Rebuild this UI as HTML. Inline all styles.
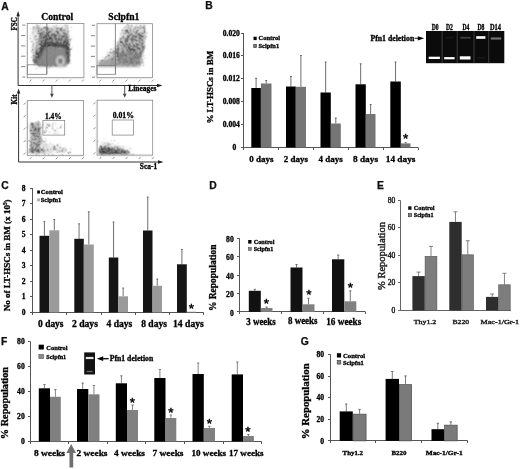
<!DOCTYPE html>
<html lang="en"><head><meta charset="utf-8"><title>Figure</title>
<style>
html,body{margin:0;padding:0;background:#fff;}
body{width:520px;height:469px;overflow:hidden;position:relative;}
svg{position:absolute;left:0;top:0;display:block;}
text.s{font-family:"Liberation Serif","DejaVu Serif",serif;font-weight:bold;stroke:#000;stroke-width:.3px;}
text.n{font-family:"Liberation Sans","DejaVu Sans",sans-serif;font-weight:bold;stroke:#000;stroke-width:.25px;}
</style></head><body>
<svg width="520" height="469" viewBox="0 0 520 469">
<defs>
<filter id="b1" x="-20%" y="-20%" width="140%" height="140%"><feGaussianBlur stdDeviation="1.2"/></filter>
<filter id="b2" x="-20%" y="-20%" width="140%" height="140%"><feGaussianBlur stdDeviation="2.2"/></filter>
<filter id="b05" x="-20%" y="-20%" width="140%" height="140%"><feGaussianBlur stdDeviation="0.8"/></filter>
<filter id="spk" filterUnits="userSpaceOnUse" x="20" y="18" width="140" height="142" color-interpolation-filters="sRGB">
  <feGaussianBlur in="SourceAlpha" stdDeviation="1.1" result="d"/>
  <feTurbulence type="fractalNoise" baseFrequency="1.37" numOctaves="1" seed="11" result="n"/>
  <feColorMatrix in="n" type="matrix" values="0 0 0 0 0  0 0 0 0 0  0 0 0 0 0  1 0 0 0 0" result="na"/>
  <feComposite in="na" in2="d" operator="arithmetic" k1="0" k2="2.4" k3="1.6" k4="-2.0" result="s"/>
  <feComponentTransfer in="s" result="s2"><feFuncA type="linear" slope="3" intercept="0"/></feComponentTransfer>
  <feComponentTransfer in="s2" result="s3"><feFuncA type="linear" slope="0.75" intercept="0"/></feComponentTransfer>
  <feConvolveMatrix in="s3" order="3" kernelMatrix="1 2 1 2 5 2 1 2 1" divisor="17" preserveAlpha="false" result="s4"/>
  <feComponentTransfer in="d" result="w"><feFuncA type="linear" slope="1.2" intercept="-0.4"/></feComponentTransfer>
  <feMerge><feMergeNode in="w"/><feMergeNode in="s4"/></feMerge>
</filter>
</defs>
<rect width="520" height="469" fill="#fff"/>

<text class="n" x="1.3" y="9.6" font-size="10.3" fill="#111">A</text>
<text class="n" x="205.2" y="9.4" font-size="10.3" fill="#111">B</text>
<text class="n" x="1.3" y="189.2" font-size="10.3" fill="#111">C</text>
<text class="n" x="209.3" y="189.3" font-size="10.3" fill="#111">D</text>
<text class="n" x="377" y="189" font-size="10.3" fill="#111">E</text>
<text class="n" x="0.9" y="344.8" font-size="10.3" fill="#111">F</text>
<text class="n" x="300.8" y="345" font-size="10.3" fill="#111">G</text>
<g id="panelA">
<g filter="url(#spk)">
<g filter="url(#b2)">
<path d="M29,23 L71,23 L73,47 L71,66 L66,68 L37,68 L29,62 Z" fill="#000" opacity="0.41"/>
<path d="M97,61 L105,55 L114,43 L123,23 L149,23 L148,45 L144,67 L97,67 Z" fill="#000" opacity="0.45"/>
<path d="M27,120 L42,119 L45,134 L46,140 L62,143 L74,152 L74,156 L27,156 Z" fill="#000" opacity="0.4"/>
<path d="M97,136 L112,139 L126,144 L137,151 L137,156 L97,156 Z" fill="#000" opacity="0.385"/>
</g>
<path d="M38,29 L68.5,28 L70,47 L46,47 L39,59 Z" fill="#000" opacity="0.13"/>
<path d="M41,34 L69,34 L70.5,48 L69.5,64 L66,66.5 L39,66.5 L34,63 L33,57 Z" fill="#000" opacity="0.16"/>
<path d="M34.5,63.5 L45.5,44.5 L66.5,45.5 L68.8,63" fill="none" stroke="#000" stroke-width="4.2" opacity="0.25"/>
<path d="M45,30 L49.5,30 L50,46 L44,47 Z" fill="#000" opacity="0.1"/>
<path d="M111,58 L119,43 L129,34 L145,32 L143.5,50 L141.5,65 L111,65 Z" fill="#000" opacity="0.127"/>
<path d="M117,57 L125,48 L140,44 L141,64 L117,65 Z" fill="#000" opacity="0.104"/>
<path d="M29,122 L40.5,121.5 L42,138 L40,152 L29,154 Z" fill="#000" opacity="0.16"/>
<path d="M31,123 L39.5,122.5 L40,135 L32,137 Z" fill="#000" opacity="0.1"/>
<path d="M28,149 L44,150 L50,155 L28,155 Z" fill="#000" opacity="0.14"/>
<rect x="44" y="122" width="19" height="12" fill="#000" opacity="0.345"/>
<path d="M98,146.5 L110,147 L122,149.5 L130,152 L130,155 L98,155 Z" fill="#000" opacity="0.36"/>
<path d="M98,149 L112,150 L113,155 L98,155 Z" fill="#000" opacity="0.12"/>
</g>
<g filter="url(#b1)">
<path d="M35.5,64.5 L46,47 L65.5,48 L67.5,62 L65.5,65.5 L40,65.5 Z" fill="#868686" opacity="0.92"/>
<path d="M35,63.5 L45.5,45 L66,46 L68.3,63" fill="none" stroke="#3a3a3a" stroke-width="2.6" opacity="0.45"/>
<path d="M38,66 L67,66" fill="none" stroke="#444" stroke-width="1.4" opacity="0.5"/>
<path d="M98,62.3 L114,60 L119,62.5 L119,66 L98,66 Z" fill="#9a9a9a" opacity="0.8"/>
<path d="M119,57 L128,52 L139,53 L140.5,64 L138,66 L119,66 Z" fill="#8c8c8c" opacity="0.55"/>
<path d="M98,66.3 L140,66.3" fill="none" stroke="#444" stroke-width="1.4" opacity="0.5"/>
<path d="M98,62 L114,59.8" fill="none" stroke="#444" stroke-width="1.2" opacity="0.45"/>
</g>
<ellipse cx="60.4" cy="61" rx="3.3" ry="4.3" fill="none" stroke="#f0f0f0" stroke-width="1.7" filter="url(#b05)"/>
<ellipse cx="60.4" cy="61" rx="1.3" ry="2" fill="#707070" filter="url(#b05)"/>
<rect x="27.30" y="23.50" width="56.60" height="54.20" fill="none" stroke="#8a8a8a" stroke-width="0.8"/>
<rect x="97.00" y="23.70" width="55.40" height="54.00" fill="none" stroke="#8a8a8a" stroke-width="0.8"/>
<rect x="27.30" y="100.60" width="56.30" height="54.70" fill="none" stroke="#8a8a8a" stroke-width="0.8"/>
<rect x="97.10" y="100.20" width="55.60" height="54.90" fill="none" stroke="#8a8a8a" stroke-width="0.8"/>
<line x1="22.3" y1="25.1" x2="25.3" y2="25.1" stroke="#909090" stroke-width="1.1"/>
<line x1="21.1" y1="35.5" x2="25.3" y2="35.5" stroke="#909090" stroke-width="1.1"/>
<line x1="21.1" y1="45.9" x2="25.3" y2="45.9" stroke="#909090" stroke-width="1.1"/>
<line x1="21.1" y1="56.2" x2="25.3" y2="56.2" stroke="#909090" stroke-width="1.1"/>
<line x1="21.1" y1="66.6" x2="25.3" y2="66.6" stroke="#909090" stroke-width="1.1"/>
<line x1="22.3" y1="77.0" x2="25.3" y2="77.0" stroke="#909090" stroke-width="1.1"/>
<line x1="29.6" y1="81.6" x2="31.5" y2="79.6" stroke="#8a8a8a" stroke-width="0.9"/>
<line x1="42.7" y1="81.6" x2="44.6" y2="79.6" stroke="#8a8a8a" stroke-width="0.9"/>
<line x1="55.8" y1="81.6" x2="57.7" y2="79.6" stroke="#8a8a8a" stroke-width="0.9"/>
<line x1="68.9" y1="81.6" x2="70.8" y2="79.6" stroke="#8a8a8a" stroke-width="0.9"/>
<line x1="82.0" y1="81.6" x2="83.9" y2="79.6" stroke="#8a8a8a" stroke-width="0.9"/>
<line x1="27.3" y1="78.8" x2="83.9" y2="78.8" stroke="#b5b5b5" stroke-width="0.5" stroke-dasharray="0.6 0.9"/>
<line x1="26.2" y1="23.5" x2="26.2" y2="77.7" stroke="#b5b5b5" stroke-width="0.5" stroke-dasharray="0.6 0.9"/>
<line x1="92.0" y1="25.3" x2="95.0" y2="25.3" stroke="#909090" stroke-width="1.1"/>
<line x1="90.8" y1="35.7" x2="95.0" y2="35.7" stroke="#909090" stroke-width="1.1"/>
<line x1="90.8" y1="46.1" x2="95.0" y2="46.1" stroke="#909090" stroke-width="1.1"/>
<line x1="90.8" y1="56.4" x2="95.0" y2="56.4" stroke="#909090" stroke-width="1.1"/>
<line x1="90.8" y1="66.8" x2="95.0" y2="66.8" stroke="#909090" stroke-width="1.1"/>
<line x1="92.0" y1="77.2" x2="95.0" y2="77.2" stroke="#909090" stroke-width="1.1"/>
<line x1="99.3" y1="81.6" x2="101.2" y2="79.6" stroke="#8a8a8a" stroke-width="0.9"/>
<line x1="112.4" y1="81.6" x2="114.3" y2="79.6" stroke="#8a8a8a" stroke-width="0.9"/>
<line x1="125.5" y1="81.6" x2="127.4" y2="79.6" stroke="#8a8a8a" stroke-width="0.9"/>
<line x1="138.6" y1="81.6" x2="140.5" y2="79.6" stroke="#8a8a8a" stroke-width="0.9"/>
<line x1="151.7" y1="81.6" x2="153.6" y2="79.6" stroke="#8a8a8a" stroke-width="0.9"/>
<line x1="97.0" y1="78.8" x2="152.4" y2="78.8" stroke="#b5b5b5" stroke-width="0.5" stroke-dasharray="0.6 0.9"/>
<line x1="95.9" y1="23.7" x2="95.9" y2="77.7" stroke="#b5b5b5" stroke-width="0.5" stroke-dasharray="0.6 0.9"/>
<line x1="23.7" y1="104.7" x2="25.5" y2="102.7" stroke="#8a8a8a" stroke-width="0.9"/>
<line x1="23.7" y1="117.2" x2="25.5" y2="115.2" stroke="#8a8a8a" stroke-width="0.9"/>
<line x1="23.7" y1="129.7" x2="25.5" y2="127.7" stroke="#8a8a8a" stroke-width="0.9"/>
<line x1="23.7" y1="142.2" x2="25.5" y2="140.2" stroke="#8a8a8a" stroke-width="0.9"/>
<line x1="23.7" y1="154.7" x2="25.5" y2="152.7" stroke="#8a8a8a" stroke-width="0.9"/>
<line x1="29.6" y1="159.2" x2="31.5" y2="157.2" stroke="#8a8a8a" stroke-width="0.9"/>
<line x1="42.7" y1="159.2" x2="44.6" y2="157.2" stroke="#8a8a8a" stroke-width="0.9"/>
<line x1="55.8" y1="159.2" x2="57.7" y2="157.2" stroke="#8a8a8a" stroke-width="0.9"/>
<line x1="68.9" y1="159.2" x2="70.8" y2="157.2" stroke="#8a8a8a" stroke-width="0.9"/>
<line x1="82.0" y1="159.2" x2="83.9" y2="157.2" stroke="#8a8a8a" stroke-width="0.9"/>
<line x1="27.3" y1="156.4" x2="83.6" y2="156.4" stroke="#b5b5b5" stroke-width="0.5" stroke-dasharray="0.6 0.9"/>
<line x1="26.2" y1="100.6" x2="26.2" y2="155.3" stroke="#b5b5b5" stroke-width="0.5" stroke-dasharray="0.6 0.9"/>
<line x1="93.5" y1="104.3" x2="95.3" y2="102.3" stroke="#8a8a8a" stroke-width="0.9"/>
<line x1="93.5" y1="116.8" x2="95.3" y2="114.8" stroke="#8a8a8a" stroke-width="0.9"/>
<line x1="93.5" y1="129.3" x2="95.3" y2="127.3" stroke="#8a8a8a" stroke-width="0.9"/>
<line x1="93.5" y1="141.8" x2="95.3" y2="139.8" stroke="#8a8a8a" stroke-width="0.9"/>
<line x1="93.5" y1="154.3" x2="95.3" y2="152.3" stroke="#8a8a8a" stroke-width="0.9"/>
<line x1="99.4" y1="159.0" x2="101.3" y2="157.0" stroke="#8a8a8a" stroke-width="0.9"/>
<line x1="112.5" y1="159.0" x2="114.4" y2="157.0" stroke="#8a8a8a" stroke-width="0.9"/>
<line x1="125.6" y1="159.0" x2="127.5" y2="157.0" stroke="#8a8a8a" stroke-width="0.9"/>
<line x1="138.7" y1="159.0" x2="140.6" y2="157.0" stroke="#8a8a8a" stroke-width="0.9"/>
<line x1="151.8" y1="159.0" x2="153.7" y2="157.0" stroke="#8a8a8a" stroke-width="0.9"/>
<line x1="97.1" y1="156.2" x2="152.7" y2="156.2" stroke="#b5b5b5" stroke-width="0.5" stroke-dasharray="0.6 0.9"/>
<line x1="96.0" y1="100.2" x2="96.0" y2="155.1" stroke="#b5b5b5" stroke-width="0.5" stroke-dasharray="0.6 0.9"/>
<line x1="46.8" y1="23.5" x2="46.8" y2="74.3" stroke="#666" stroke-width="0.75"/>
<rect x="27.30" y="64.80" width="19.50" height="9.50" fill="none" stroke="#7c7c7c" stroke-width="0.75"/>
<line x1="115.4" y1="23.7" x2="115.4" y2="74.3" stroke="#666" stroke-width="0.75"/>
<rect x="97.00" y="65.40" width="18.40" height="8.90" fill="none" stroke="#7c7c7c" stroke-width="0.75"/>
<rect x="42.90" y="120.40" width="21.80" height="14.70" fill="none" stroke="#858585" stroke-width="0.75"/>
<rect x="112.20" y="120.00" width="21.40" height="15.10" fill="none" stroke="#858585" stroke-width="0.75"/>
<line x1="18.1" y1="15" x2="18.1" y2="85.5" stroke="#333" stroke-width="1"/>
<line x1="18.1" y1="85.5" x2="159" y2="85.5" stroke="#333" stroke-width="1"/>
<path d="M18.1,10.9 L16.4,16.2 L19.8,16.2 Z" fill="#222"/>
<path d="M162.5,85.5 L157,83.7 L157,87.3 Z" fill="#222"/>
<line x1="18.6" y1="91" x2="18.6" y2="162" stroke="#333" stroke-width="1"/>
<line x1="18.6" y1="162" x2="160" y2="162" stroke="#333" stroke-width="1"/>
<path d="M18.6,88.6 L16.9,93.6 L20.3,93.6 Z" fill="#222"/>
<path d="M163.5,162 L158,160.2 L158,163.8 Z" fill="#222"/>
<line x1="51.9" y1="85.5" x2="51.9" y2="95" stroke="#444" stroke-width="0.9"/>
<path d="M51.9,97.7 L50.1,93.8 L53.699999999999996,93.8 Z" fill="#444"/>
<line x1="124.7" y1="85.5" x2="124.7" y2="95" stroke="#444" stroke-width="0.9"/>
<path d="M124.7,97.7 L122.9,93.8 L126.5,93.8 Z" fill="#444"/>
<text class="s" x="57.2" y="19.6" font-size="10.6" fill="#000" text-anchor="middle" textLength="32" lengthAdjust="spacingAndGlyphs">Control</text>
<text class="s" x="123.8" y="19.6" font-size="10.6" fill="#000" text-anchor="middle" textLength="31" lengthAdjust="spacingAndGlyphs">Sclpfn1</text>
<text class="s" x="16.8" y="30.4" font-size="8.4" fill="#000" textLength="13.2" lengthAdjust="spacingAndGlyphs" transform="rotate(-90 16.8 30.4)">FSC</text>
<text class="s" x="17.3" y="104.6" font-size="8.4" fill="#000" textLength="10.3" lengthAdjust="spacingAndGlyphs" transform="rotate(-90 17.3 104.6)">Kit</text>
<text class="s" x="128.3" y="91.4" font-size="8" fill="#000" textLength="28.2" lengthAdjust="spacingAndGlyphs">Lineages</text>
<text class="s" x="139.8" y="169" font-size="8" fill="#000" textLength="17.3" lengthAdjust="spacingAndGlyphs">Sca-1</text>
<text class="s" x="45" y="118.8" font-size="8.8" fill="#000" textLength="16.8" lengthAdjust="spacingAndGlyphs">1.4%</text>
<text class="s" x="112.7" y="118.2" font-size="8.8" fill="#000" textLength="21.3" lengthAdjust="spacingAndGlyphs">0.01%</text>
</g>
<g id="panelB">
<line x1="243.5" y1="33.00" x2="243.5" y2="150.0" stroke="#555" stroke-width="1"/>
<line x1="241.0" y1="147.5" x2="418.0" y2="147.5" stroke="#555" stroke-width="1"/>
<line x1="241.0" y1="33.5" x2="243.5" y2="33.5" stroke="#555" stroke-width="1"/>
<text class="s" x="239.9" y="35.58" font-size="7.6" fill="#000" text-anchor="end">0.020</text>
<line x1="241.0" y1="55.5" x2="243.5" y2="55.5" stroke="#555" stroke-width="1"/>
<text class="s" x="239.9" y="58.43" font-size="7.6" fill="#000" text-anchor="end">0.016</text>
<line x1="241.0" y1="78.5" x2="243.5" y2="78.5" stroke="#555" stroke-width="1"/>
<text class="s" x="239.9" y="81.28" font-size="7.6" fill="#000" text-anchor="end">0.012</text>
<line x1="241.0" y1="101.5" x2="243.5" y2="101.5" stroke="#555" stroke-width="1"/>
<text class="s" x="239.9" y="104.13" font-size="7.6" fill="#000" text-anchor="end">0.008</text>
<line x1="241.0" y1="124.5" x2="243.5" y2="124.5" stroke="#555" stroke-width="1"/>
<text class="s" x="239.9" y="126.98" font-size="7.6" fill="#000" text-anchor="end">0.004</text>
<text class="s" x="236.4" y="149.83" font-size="7.6" fill="#000" text-anchor="end">0</text>
<line x1="278.5" y1="147.5" x2="278.5" y2="150.0" stroke="#555" stroke-width="1"/>
<line x1="313.5" y1="147.5" x2="313.5" y2="150.0" stroke="#555" stroke-width="1"/>
<line x1="348.5" y1="147.5" x2="348.5" y2="150.0" stroke="#555" stroke-width="1"/>
<line x1="383.5" y1="147.5" x2="383.5" y2="150.0" stroke="#555" stroke-width="1"/>
<line x1="418.5" y1="147.5" x2="418.5" y2="150.0" stroke="#555" stroke-width="1"/>
<line x1="256.10" y1="78.30" x2="256.10" y2="88.00" stroke="#4a4a4a" stroke-width="0.8"/>
<line x1="255.20" y1="78.30" x2="257.00" y2="78.30" stroke="#4a4a4a" stroke-width="0.8"/>
<rect x="251.30" y="88.00" width="9.60" height="59.40" fill="#000"/>
<line x1="266.20" y1="80.50" x2="266.20" y2="83.50" stroke="#4a4a4a" stroke-width="0.8"/>
<line x1="265.30" y1="80.50" x2="267.10" y2="80.50" stroke="#4a4a4a" stroke-width="0.8"/>
<rect x="260.90" y="83.50" width="10.60" height="63.90" fill="#757575"/>
<line x1="290.90" y1="76.50" x2="290.90" y2="86.50" stroke="#4a4a4a" stroke-width="0.8"/>
<line x1="290.00" y1="76.50" x2="291.80" y2="76.50" stroke="#4a4a4a" stroke-width="0.8"/>
<rect x="286.00" y="86.50" width="9.80" height="60.90" fill="#000"/>
<line x1="300.90" y1="55.50" x2="300.90" y2="86.80" stroke="#4a4a4a" stroke-width="0.8"/>
<line x1="300.00" y1="55.50" x2="301.80" y2="55.50" stroke="#4a4a4a" stroke-width="0.8"/>
<rect x="295.80" y="86.80" width="10.20" height="60.60" fill="#757575"/>
<line x1="325.65" y1="62.00" x2="325.65" y2="92.50" stroke="#4a4a4a" stroke-width="0.8"/>
<line x1="324.75" y1="62.00" x2="326.55" y2="62.00" stroke="#4a4a4a" stroke-width="0.8"/>
<rect x="320.50" y="92.50" width="10.30" height="54.90" fill="#000"/>
<line x1="335.80" y1="118.00" x2="335.80" y2="123.50" stroke="#4a4a4a" stroke-width="0.8"/>
<line x1="334.90" y1="118.00" x2="336.70" y2="118.00" stroke="#4a4a4a" stroke-width="0.8"/>
<rect x="330.80" y="123.50" width="10.00" height="23.90" fill="#757575"/>
<line x1="360.65" y1="63.80" x2="360.65" y2="84.30" stroke="#4a4a4a" stroke-width="0.8"/>
<line x1="359.75" y1="63.80" x2="361.55" y2="63.80" stroke="#4a4a4a" stroke-width="0.8"/>
<rect x="355.50" y="84.30" width="10.30" height="63.10" fill="#000"/>
<line x1="370.65" y1="104.50" x2="370.65" y2="114.00" stroke="#4a4a4a" stroke-width="0.8"/>
<line x1="369.75" y1="104.50" x2="371.55" y2="104.50" stroke="#4a4a4a" stroke-width="0.8"/>
<rect x="365.80" y="114.00" width="9.70" height="33.40" fill="#757575"/>
<line x1="395.55" y1="62.00" x2="395.55" y2="81.50" stroke="#4a4a4a" stroke-width="0.8"/>
<line x1="394.65" y1="62.00" x2="396.45" y2="62.00" stroke="#4a4a4a" stroke-width="0.8"/>
<rect x="390.30" y="81.50" width="10.50" height="65.90" fill="#000"/>
<line x1="405.65" y1="142.50" x2="405.65" y2="143.40" stroke="#4a4a4a" stroke-width="0.8"/>
<line x1="404.75" y1="142.50" x2="406.55" y2="142.50" stroke="#4a4a4a" stroke-width="0.8"/>
<rect x="400.80" y="143.40" width="9.70" height="4.00" fill="#757575"/>
<text class="s" x="249.2" y="162" font-size="9" fill="#000" textLength="24.3" lengthAdjust="spacingAndGlyphs">0 days</text>
<text class="s" x="283.8" y="162" font-size="9" fill="#000" textLength="24.2" lengthAdjust="spacingAndGlyphs">2 days</text>
<text class="s" x="318.5" y="162" font-size="9" fill="#000" textLength="24.2" lengthAdjust="spacingAndGlyphs">4 days</text>
<text class="s" x="353" y="162" font-size="9" fill="#000" textLength="25" lengthAdjust="spacingAndGlyphs">8 days</text>
<text class="s" x="385.8" y="162" font-size="9" fill="#000" textLength="29.6" lengthAdjust="spacingAndGlyphs">14 days</text>
<text class="n" x="405.6" y="143.2" font-size="13.5" fill="#000" text-anchor="middle" style="font-weight:normal;stroke-width:.45px">*</text>
<text class="s" x="213.2" y="123.6" font-size="8.7" fill="#000" textLength="72.9" lengthAdjust="spacingAndGlyphs" transform="rotate(-90 213.2 123.6)">%  LT-HSCs in BM</text>
<rect x="253.50" y="36.70" width="3.20" height="3.40" fill="#000"/>
<text class="s" x="258.5" y="40.4" font-size="6.6" fill="#000" textLength="21.6" lengthAdjust="spacingAndGlyphs">Control</text>
<rect x="253.70" y="44.40" width="2.80" height="3.20" fill="#777" stroke="#333" stroke-width="0.6"/>
<text class="s" x="258.5" y="48" font-size="6.6" fill="#000" textLength="20.6" lengthAdjust="spacingAndGlyphs">Sclpfn1</text>
<rect x="426.00" y="31.00" width="78.30" height="32.20" fill="#0b0b0b"/>
<line x1="442.1" y1="31" x2="442.1" y2="63.2" stroke="#606060" stroke-width="0.6"/>
<line x1="457.2" y1="31" x2="457.2" y2="63.2" stroke="#606060" stroke-width="0.6"/>
<line x1="474" y1="31" x2="474" y2="63.2" stroke="#606060" stroke-width="0.6"/>
<line x1="488.7" y1="31" x2="488.7" y2="63.2" stroke="#606060" stroke-width="0.6"/>
<rect x="428.70" y="56.70" width="11.20" height="2.30" fill="#fff"/>
<rect x="444.20" y="57.10" width="10.40" height="2.20" fill="#fff"/>
<rect x="459.80" y="56.30" width="10.70" height="3.20" fill="#fff"/>
<rect x="476.20" y="36.20" width="9.20" height="2.60" fill="#fff"/>
<rect x="460.30" y="36.80" width="10.40" height="1.80" fill="#414141"/>
<rect x="490.80" y="37.40" width="10.40" height="2.20" fill="#727272"/>
<rect x="445.50" y="37.20" width="8.50" height="1.20" fill="#1c1c1c"/>
<rect x="477.50" y="57.20" width="7.50" height="1.20" fill="#1e1e1e"/>
<text class="s" x="431.8" y="30.2" font-size="7.3" fill="#000" textLength="6.9" lengthAdjust="spacingAndGlyphs">D0</text>
<text class="s" x="446" y="30.2" font-size="7.3" fill="#000" textLength="6.9" lengthAdjust="spacingAndGlyphs">D2</text>
<text class="s" x="462.4" y="30.2" font-size="7.3" fill="#000" textLength="6.9" lengthAdjust="spacingAndGlyphs">D4</text>
<text class="s" x="477.4" y="30.2" font-size="7.3" fill="#000" textLength="7.0" lengthAdjust="spacingAndGlyphs">D8</text>
<text class="s" x="490" y="30.2" font-size="7.3" fill="#000" textLength="11" lengthAdjust="spacingAndGlyphs">D14</text>
<text class="s" x="370.5" y="40.9" font-size="7.4" fill="#000" textLength="43.7" lengthAdjust="spacingAndGlyphs">Pfn1 deletion</text>
<line x1="414.5" y1="38.3" x2="419" y2="38.3" stroke="#111" stroke-width="1"/>
<path d="M424.2,38.3 L417.8,36.2 L417.8,40.4 Z" fill="#000"/>
</g>
<g id="panelC">
<line x1="32.5" y1="188.00" x2="32.5" y2="315.0" stroke="#555" stroke-width="1"/>
<line x1="30.0" y1="312.5" x2="203.75" y2="312.5" stroke="#555" stroke-width="1"/>
<line x1="30.0" y1="188.5" x2="32.5" y2="188.5" stroke="#555" stroke-width="1"/>
<text class="s" x="25.5" y="190.58" font-size="7.6" fill="#000" text-anchor="end">8</text>
<line x1="30.0" y1="203.5" x2="32.5" y2="203.5" stroke="#555" stroke-width="1"/>
<text class="s" x="25.5" y="206.13" font-size="7.6" fill="#000" text-anchor="end">7</text>
<line x1="30.0" y1="219.5" x2="32.5" y2="219.5" stroke="#555" stroke-width="1"/>
<text class="s" x="25.5" y="221.68" font-size="7.6" fill="#000" text-anchor="end">6</text>
<line x1="30.0" y1="234.5" x2="32.5" y2="234.5" stroke="#555" stroke-width="1"/>
<text class="s" x="25.5" y="237.23" font-size="7.6" fill="#000" text-anchor="end">5</text>
<line x1="30.0" y1="250.5" x2="32.5" y2="250.5" stroke="#555" stroke-width="1"/>
<text class="s" x="25.5" y="252.78" font-size="7.6" fill="#000" text-anchor="end">4</text>
<line x1="30.0" y1="265.5" x2="32.5" y2="265.5" stroke="#555" stroke-width="1"/>
<text class="s" x="25.5" y="268.33" font-size="7.6" fill="#000" text-anchor="end">3</text>
<line x1="30.0" y1="281.5" x2="32.5" y2="281.5" stroke="#555" stroke-width="1"/>
<text class="s" x="25.5" y="283.88" font-size="7.6" fill="#000" text-anchor="end">2</text>
<line x1="30.0" y1="296.5" x2="32.5" y2="296.5" stroke="#555" stroke-width="1"/>
<text class="s" x="25.5" y="299.43" font-size="7.6" fill="#000" text-anchor="end">1</text>
<text class="s" x="25.5" y="314.98" font-size="7.6" fill="#000" text-anchor="end">0</text>
<line x1="66.5" y1="312.5" x2="66.5" y2="315.0" stroke="#555" stroke-width="1"/>
<line x1="101.5" y1="312.5" x2="101.5" y2="315.0" stroke="#555" stroke-width="1"/>
<line x1="135.5" y1="312.5" x2="135.5" y2="315.0" stroke="#555" stroke-width="1"/>
<line x1="169.5" y1="312.5" x2="169.5" y2="315.0" stroke="#555" stroke-width="1"/>
<line x1="203.5" y1="312.5" x2="203.5" y2="315.0" stroke="#555" stroke-width="1"/>
<line x1="44.40" y1="221.50" x2="44.40" y2="235.80" stroke="#4a4a4a" stroke-width="0.8"/>
<line x1="43.50" y1="221.50" x2="45.30" y2="221.50" stroke="#4a4a4a" stroke-width="0.8"/>
<rect x="39.50" y="235.80" width="9.80" height="76.60" fill="#151515"/>
<line x1="54.30" y1="219.50" x2="54.30" y2="230.30" stroke="#4a4a4a" stroke-width="0.8"/>
<line x1="53.40" y1="219.50" x2="55.20" y2="219.50" stroke="#4a4a4a" stroke-width="0.8"/>
<rect x="49.30" y="230.30" width="10.00" height="82.10" fill="#9a9a9a"/>
<line x1="79.05" y1="223.80" x2="79.05" y2="238.80" stroke="#4a4a4a" stroke-width="0.8"/>
<line x1="78.15" y1="223.80" x2="79.95" y2="223.80" stroke="#4a4a4a" stroke-width="0.8"/>
<rect x="74.30" y="238.80" width="9.50" height="73.60" fill="#151515"/>
<line x1="88.80" y1="211.80" x2="88.80" y2="244.50" stroke="#4a4a4a" stroke-width="0.8"/>
<line x1="87.90" y1="211.80" x2="89.70" y2="211.80" stroke="#4a4a4a" stroke-width="0.8"/>
<rect x="83.80" y="244.50" width="10.00" height="67.90" fill="#9a9a9a"/>
<line x1="113.55" y1="222.00" x2="113.55" y2="257.50" stroke="#4a4a4a" stroke-width="0.8"/>
<line x1="112.65" y1="222.00" x2="114.45" y2="222.00" stroke="#4a4a4a" stroke-width="0.8"/>
<rect x="108.80" y="257.50" width="9.50" height="54.90" fill="#151515"/>
<line x1="123.15" y1="288.00" x2="123.15" y2="296.30" stroke="#4a4a4a" stroke-width="0.8"/>
<line x1="122.25" y1="288.00" x2="124.05" y2="288.00" stroke="#4a4a4a" stroke-width="0.8"/>
<rect x="118.30" y="296.30" width="9.70" height="16.10" fill="#9a9a9a"/>
<line x1="147.75" y1="197.00" x2="147.75" y2="230.50" stroke="#4a4a4a" stroke-width="0.8"/>
<line x1="146.85" y1="197.00" x2="148.65" y2="197.00" stroke="#4a4a4a" stroke-width="0.8"/>
<rect x="143.00" y="230.50" width="9.50" height="81.90" fill="#151515"/>
<line x1="157.25" y1="279.00" x2="157.25" y2="285.80" stroke="#4a4a4a" stroke-width="0.8"/>
<line x1="156.35" y1="279.00" x2="158.15" y2="279.00" stroke="#4a4a4a" stroke-width="0.8"/>
<rect x="152.50" y="285.80" width="9.50" height="26.60" fill="#9a9a9a"/>
<line x1="181.90" y1="249.50" x2="181.90" y2="264.30" stroke="#4a4a4a" stroke-width="0.8"/>
<line x1="181.00" y1="249.50" x2="182.80" y2="249.50" stroke="#4a4a4a" stroke-width="0.8"/>
<rect x="177.00" y="264.30" width="9.80" height="48.10" fill="#151515"/>
<rect x="186.80" y="311.70" width="9.20" height="0.70" fill="#9a9a9a"/>
<text class="s" x="38.1" y="327" font-size="9.4" fill="#000" textLength="25.4" lengthAdjust="spacingAndGlyphs">0 days</text>
<text class="s" x="71.9" y="327" font-size="9.4" fill="#000" textLength="26.1" lengthAdjust="spacingAndGlyphs">2 days</text>
<text class="s" x="106.5" y="327" font-size="9.4" fill="#000" textLength="25.8" lengthAdjust="spacingAndGlyphs">4 days</text>
<text class="s" x="141.2" y="327" font-size="9.4" fill="#000" textLength="25.8" lengthAdjust="spacingAndGlyphs">8 days</text>
<text class="s" x="173" y="327" font-size="9.4" fill="#000" textLength="30.8" lengthAdjust="spacingAndGlyphs">14 days</text>
<text class="n" x="191.5" y="312.9" font-size="13.5" fill="#000" text-anchor="middle" style="font-weight:normal;stroke-width:.45px">*</text>
<text class="s" x="9.9" y="311.3" font-size="8.9" fill="#000" textLength="111.9" lengthAdjust="spacingAndGlyphs" transform="rotate(-90 9.9 311.3)">No of LT-HSCs in BM (x 10<tspan dy="-2.6" font-size="5.2">5</tspan><tspan dy="2.6">)</tspan></text>
<rect x="37.20" y="190.50" width="2.70" height="3.10" fill="#000"/>
<text class="s" x="40.8" y="193.8" font-size="6.6" fill="#000" textLength="22.1" lengthAdjust="spacingAndGlyphs">Control</text>
<rect x="37.20" y="198.40" width="2.70" height="2.90" fill="#aaa"/>
<text class="s" x="40.8" y="202" font-size="6.6" fill="#000" textLength="20.5" lengthAdjust="spacingAndGlyphs">Sclpfn1</text>
</g>
<g id="panelD">
<line x1="239.5" y1="238.30" x2="239.5" y2="314.0" stroke="#555" stroke-width="1"/>
<line x1="237.0" y1="311.5" x2="365.1" y2="311.5" stroke="#555" stroke-width="1"/>
<line x1="237.0" y1="238.5" x2="239.5" y2="238.5" stroke="#555" stroke-width="1"/>
<text class="s" x="233.7" y="241.88" font-size="7.6" fill="#000" text-anchor="end">80</text>
<line x1="237.0" y1="256.5" x2="239.5" y2="256.5" stroke="#555" stroke-width="1"/>
<text class="s" x="233.7" y="260.31" font-size="7.6" fill="#000" text-anchor="end">60</text>
<line x1="237.0" y1="275.5" x2="239.5" y2="275.5" stroke="#555" stroke-width="1"/>
<text class="s" x="233.7" y="278.74" font-size="7.6" fill="#000" text-anchor="end">40</text>
<line x1="237.0" y1="293.5" x2="239.5" y2="293.5" stroke="#555" stroke-width="1"/>
<text class="s" x="233.7" y="297.17" font-size="7.6" fill="#000" text-anchor="end">20</text>
<text class="s" x="233.7" y="315.6" font-size="7.6" fill="#000" text-anchor="end">0</text>
<line x1="281.5" y1="311.5" x2="281.5" y2="314.0" stroke="#555" stroke-width="1"/>
<line x1="323.5" y1="311.5" x2="323.5" y2="314.0" stroke="#555" stroke-width="1"/>
<line x1="365.5" y1="311.5" x2="365.5" y2="314.0" stroke="#555" stroke-width="1"/>
<line x1="254.80" y1="289.30" x2="254.80" y2="290.80" stroke="#555" stroke-width="0.8"/>
<line x1="253.70" y1="289.30" x2="255.90" y2="289.30" stroke="#555" stroke-width="0.8"/>
<rect x="248.80" y="290.80" width="12.00" height="21.10" fill="#111"/>
<line x1="266.65" y1="307.00" x2="266.65" y2="308.00" stroke="#555" stroke-width="0.8"/>
<line x1="265.55" y1="307.00" x2="267.75" y2="307.00" stroke="#555" stroke-width="0.8"/>
<rect x="260.80" y="308.00" width="11.70" height="3.90" fill="#808080"/>
<line x1="296.50" y1="264.50" x2="296.50" y2="267.50" stroke="#555" stroke-width="0.8"/>
<line x1="295.40" y1="264.50" x2="297.60" y2="264.50" stroke="#555" stroke-width="0.8"/>
<rect x="290.50" y="267.50" width="12.00" height="44.40" fill="#111"/>
<line x1="308.50" y1="298.30" x2="308.50" y2="304.30" stroke="#555" stroke-width="0.8"/>
<line x1="307.40" y1="298.30" x2="309.60" y2="298.30" stroke="#555" stroke-width="0.8"/>
<rect x="302.50" y="304.30" width="12.00" height="7.60" fill="#808080"/>
<line x1="338.15" y1="255.00" x2="338.15" y2="259.30" stroke="#555" stroke-width="0.8"/>
<line x1="337.05" y1="255.00" x2="339.25" y2="255.00" stroke="#555" stroke-width="0.8"/>
<rect x="332.00" y="259.30" width="12.30" height="52.60" fill="#111"/>
<line x1="350.30" y1="290.80" x2="350.30" y2="301.30" stroke="#555" stroke-width="0.8"/>
<line x1="349.20" y1="290.80" x2="351.40" y2="290.80" stroke="#555" stroke-width="0.8"/>
<rect x="344.30" y="301.30" width="12.00" height="10.60" fill="#808080"/>
<text class="s" x="246.25" y="324.5" font-size="9.4" fill="#000" textLength="29.5" lengthAdjust="spacingAndGlyphs">3 weeks</text>
<text class="s" x="288" y="323.7" font-size="9.4" fill="#000" textLength="29.5" lengthAdjust="spacingAndGlyphs">8 weeks</text>
<text class="s" x="326.25" y="324.5" font-size="9.4" fill="#000" textLength="35.0" lengthAdjust="spacingAndGlyphs">16 weeks</text>
<text class="n" x="266.5" y="308.4" font-size="13.5" fill="#000" text-anchor="middle" style="font-weight:normal;stroke-width:.45px">*</text>
<text class="n" x="309" y="298.9" font-size="13.5" fill="#000" text-anchor="middle" style="font-weight:normal;stroke-width:.45px">*</text>
<text class="n" x="350.3" y="291.9" font-size="13.5" fill="#000" text-anchor="middle" style="font-weight:normal;stroke-width:.45px">*</text>
<text class="s" x="216.1" y="311" font-size="9.4" fill="#000" textLength="66.4" lengthAdjust="spacingAndGlyphs" transform="rotate(-90 216.1 311)">% Repopulation</text>
<rect x="248.20" y="240.00" width="3.30" height="3.60" fill="#000"/>
<text class="s" x="253.75" y="243.9" font-size="6.4" fill="#000" textLength="20.65" lengthAdjust="spacingAndGlyphs">Control</text>
<rect x="248.40" y="247.50" width="2.90" height="2.90" fill="#888" stroke="#555" stroke-width="0.6"/>
<text class="s" x="253.75" y="251.3" font-size="6.4" fill="#000" textLength="19.45" lengthAdjust="spacingAndGlyphs">Sclpfn1</text>
</g>
<g id="panelE">
<line x1="400.5" y1="200.40" x2="400.5" y2="310.5" stroke="#666" stroke-width="1"/>
<line x1="398.0" y1="310.5" x2="511" y2="310.5" stroke="#666" stroke-width="1"/>
<line x1="398.0" y1="200.5" x2="400.5" y2="200.5" stroke="#666" stroke-width="1"/>
<text class="s" x="395.3" y="202.95" font-size="7.5" fill="#000" text-anchor="end" style="font-weight:normal;stroke:#222;stroke-width:.4px">80</text>
<line x1="398.0" y1="227.5" x2="400.5" y2="227.5" stroke="#666" stroke-width="1"/>
<text class="s" x="395.3" y="230.45" font-size="7.5" fill="#000" text-anchor="end" style="font-weight:normal;stroke:#222;stroke-width:.4px">60</text>
<line x1="398.0" y1="255.5" x2="400.5" y2="255.5" stroke="#666" stroke-width="1"/>
<text class="s" x="395.3" y="257.95" font-size="7.5" fill="#000" text-anchor="end" style="font-weight:normal;stroke:#222;stroke-width:.4px">40</text>
<line x1="398.0" y1="282.5" x2="400.5" y2="282.5" stroke="#666" stroke-width="1"/>
<text class="s" x="395.3" y="285.45" font-size="7.5" fill="#000" text-anchor="end" style="font-weight:normal;stroke:#222;stroke-width:.4px">20</text>
<text class="s" x="395.3" y="312.95" font-size="7.5" fill="#000" text-anchor="end" style="font-weight:normal;stroke:#222;stroke-width:.4px">0</text>
<line x1="418.60" y1="272.10" x2="418.60" y2="276.10" stroke="#666" stroke-width="0.8"/>
<line x1="416.60" y1="272.10" x2="420.60" y2="272.10" stroke="#666" stroke-width="0.8"/>
<rect x="412.40" y="276.10" width="12.40" height="34.40" fill="#2e2e2e"/>
<line x1="431.00" y1="246.40" x2="431.00" y2="256.00" stroke="#666" stroke-width="0.8"/>
<line x1="429.00" y1="246.40" x2="433.00" y2="246.40" stroke="#666" stroke-width="0.8"/>
<rect x="425.10" y="256.30" width="11.80" height="54.20" fill="#7d7d7d" stroke="#555" stroke-width="0.6"/>
<line x1="455.50" y1="211.80" x2="455.50" y2="221.90" stroke="#666" stroke-width="0.8"/>
<line x1="453.50" y1="211.80" x2="457.50" y2="211.80" stroke="#666" stroke-width="0.8"/>
<rect x="449.30" y="221.90" width="12.40" height="88.60" fill="#2e2e2e"/>
<line x1="467.75" y1="240.70" x2="467.75" y2="254.50" stroke="#666" stroke-width="0.8"/>
<line x1="465.75" y1="240.70" x2="469.75" y2="240.70" stroke="#666" stroke-width="0.8"/>
<rect x="462.00" y="254.80" width="11.50" height="55.70" fill="#7d7d7d" stroke="#555" stroke-width="0.6"/>
<line x1="492.20" y1="294.00" x2="492.20" y2="296.90" stroke="#666" stroke-width="0.8"/>
<line x1="490.20" y1="294.00" x2="494.20" y2="294.00" stroke="#666" stroke-width="0.8"/>
<rect x="486.00" y="296.90" width="12.40" height="13.60" fill="#2e2e2e"/>
<line x1="504.45" y1="273.30" x2="504.45" y2="284.50" stroke="#666" stroke-width="0.8"/>
<line x1="502.45" y1="273.30" x2="506.45" y2="273.30" stroke="#666" stroke-width="0.8"/>
<rect x="498.70" y="284.80" width="11.50" height="25.70" fill="#7d7d7d" stroke="#555" stroke-width="0.6"/>
<text class="s" x="425" y="324" font-size="6.6" fill="#1a1a1a" text-anchor="middle" textLength="22.5" lengthAdjust="spacingAndGlyphs" style="font-weight:normal;stroke:#222;stroke-width:.4px">Thy1.2</text>
<text class="s" x="460.8" y="324" font-size="6.6" fill="#1a1a1a" text-anchor="middle" textLength="16.5" lengthAdjust="spacingAndGlyphs" style="font-weight:normal;stroke:#222;stroke-width:.4px">B220</text>
<text class="s" x="499.8" y="324" font-size="6.6" fill="#1a1a1a" text-anchor="middle" textLength="38.5" lengthAdjust="spacingAndGlyphs" style="font-weight:normal;stroke:#222;stroke-width:.4px">Mac-1/Gr-1</text>
<text class="s" x="384.8" y="290" font-size="9.4" fill="#1a1a1a" textLength="68" lengthAdjust="spacingAndGlyphs" transform="rotate(-90 384.8 290)" style="font-weight:normal;stroke:#222;stroke-width:.4px">% Repopulation</text>
<rect x="408.20" y="206.30" width="3.30" height="3.50" fill="#111"/>
<text class="s" x="413.75" y="210.2" font-size="6.8" fill="#000" textLength="20.85" lengthAdjust="spacingAndGlyphs">Control</text>
<rect x="408.40" y="213.60" width="3.10" height="3.10" fill="#888" stroke="#3a3a3a" stroke-width="0.7"/>
<text class="s" x="413.75" y="217.4" font-size="6.8" fill="#000" textLength="19.75" lengthAdjust="spacingAndGlyphs">Sclpfn1</text>
</g>
<g id="panelF">
<line x1="30.5" y1="341.80" x2="30.5" y2="444.0" stroke="#555" stroke-width="1"/>
<line x1="28.0" y1="441.5" x2="261.6" y2="441.5" stroke="#555" stroke-width="1"/>
<line x1="28.0" y1="341.5" x2="30.5" y2="341.5" stroke="#555" stroke-width="1"/>
<text class="s" x="24.7" y="344.38" font-size="7.6" fill="#000" text-anchor="end">80</text>
<line x1="28.0" y1="366.5" x2="30.5" y2="366.5" stroke="#555" stroke-width="1"/>
<text class="s" x="24.7" y="369.33" font-size="7.6" fill="#000" text-anchor="end">60</text>
<line x1="28.0" y1="391.5" x2="30.5" y2="391.5" stroke="#555" stroke-width="1"/>
<text class="s" x="24.7" y="394.28" font-size="7.6" fill="#000" text-anchor="end">40</text>
<line x1="28.0" y1="416.5" x2="30.5" y2="416.5" stroke="#555" stroke-width="1"/>
<text class="s" x="24.7" y="419.23" font-size="7.6" fill="#000" text-anchor="end">20</text>
<text class="s" x="24.7" y="444.18" font-size="7.6" fill="#000" text-anchor="end">0</text>
<line x1="68.5" y1="441.5" x2="68.5" y2="444.0" stroke="#555" stroke-width="1"/>
<line x1="107.5" y1="441.5" x2="107.5" y2="444.0" stroke="#555" stroke-width="1"/>
<line x1="145.5" y1="441.5" x2="145.5" y2="444.0" stroke="#555" stroke-width="1"/>
<line x1="184.5" y1="441.5" x2="184.5" y2="444.0" stroke="#555" stroke-width="1"/>
<line x1="223.5" y1="441.5" x2="223.5" y2="444.0" stroke="#555" stroke-width="1"/>
<line x1="261.5" y1="441.5" x2="261.5" y2="444.0" stroke="#555" stroke-width="1"/>
<line x1="44.40" y1="384.50" x2="44.40" y2="388.30" stroke="#666" stroke-width="0.8"/>
<line x1="43.20" y1="384.50" x2="45.60" y2="384.50" stroke="#666" stroke-width="0.8"/>
<rect x="38.80" y="388.30" width="11.20" height="53.20" fill="#000"/>
<line x1="55.40" y1="389.50" x2="55.40" y2="396.80" stroke="#666" stroke-width="0.8"/>
<line x1="54.20" y1="389.50" x2="56.60" y2="389.50" stroke="#666" stroke-width="0.8"/>
<rect x="50.00" y="396.80" width="10.80" height="44.70" fill="#808080"/>
<line x1="82.65" y1="383.00" x2="82.65" y2="389.00" stroke="#666" stroke-width="0.8"/>
<line x1="81.45" y1="383.00" x2="83.85" y2="383.00" stroke="#666" stroke-width="0.8"/>
<rect x="77.00" y="389.00" width="11.30" height="52.50" fill="#000"/>
<line x1="93.90" y1="385.50" x2="93.90" y2="394.30" stroke="#666" stroke-width="0.8"/>
<line x1="92.70" y1="385.50" x2="95.10" y2="385.50" stroke="#666" stroke-width="0.8"/>
<rect x="88.30" y="394.30" width="11.20" height="47.20" fill="#808080"/>
<line x1="121.40" y1="375.80" x2="121.40" y2="383.30" stroke="#666" stroke-width="0.8"/>
<line x1="120.20" y1="375.80" x2="122.60" y2="375.80" stroke="#666" stroke-width="0.8"/>
<rect x="115.80" y="383.30" width="11.20" height="58.20" fill="#000"/>
<line x1="132.50" y1="405.00" x2="132.50" y2="410.00" stroke="#666" stroke-width="0.8"/>
<line x1="131.30" y1="405.00" x2="133.70" y2="405.00" stroke="#666" stroke-width="0.8"/>
<rect x="127.00" y="410.00" width="11.00" height="31.50" fill="#808080"/>
<line x1="159.90" y1="369.50" x2="159.90" y2="378.00" stroke="#666" stroke-width="0.8"/>
<line x1="158.70" y1="369.50" x2="161.10" y2="369.50" stroke="#666" stroke-width="0.8"/>
<rect x="154.30" y="378.00" width="11.20" height="63.50" fill="#000"/>
<line x1="170.90" y1="415.00" x2="170.90" y2="418.00" stroke="#666" stroke-width="0.8"/>
<line x1="169.70" y1="415.00" x2="172.10" y2="415.00" stroke="#666" stroke-width="0.8"/>
<rect x="165.50" y="418.00" width="10.80" height="23.50" fill="#808080"/>
<line x1="198.15" y1="363.00" x2="198.15" y2="374.00" stroke="#666" stroke-width="0.8"/>
<line x1="196.95" y1="363.00" x2="199.35" y2="363.00" stroke="#666" stroke-width="0.8"/>
<rect x="192.50" y="374.00" width="11.30" height="67.50" fill="#000"/>
<line x1="209.40" y1="426.30" x2="209.40" y2="428.00" stroke="#666" stroke-width="0.8"/>
<line x1="208.20" y1="426.30" x2="210.60" y2="426.30" stroke="#666" stroke-width="0.8"/>
<rect x="203.80" y="428.00" width="11.20" height="13.50" fill="#808080"/>
<line x1="237.35" y1="362.00" x2="237.35" y2="374.40" stroke="#666" stroke-width="0.8"/>
<line x1="236.15" y1="362.00" x2="238.55" y2="362.00" stroke="#666" stroke-width="0.8"/>
<rect x="231.70" y="374.40" width="11.30" height="67.10" fill="#000"/>
<line x1="248.45" y1="434.50" x2="248.45" y2="436.00" stroke="#666" stroke-width="0.8"/>
<line x1="247.25" y1="434.50" x2="249.65" y2="434.50" stroke="#666" stroke-width="0.8"/>
<rect x="243.00" y="436.00" width="10.90" height="5.50" fill="#808080"/>
<text class="s" x="34" y="455.8" font-size="9.2" fill="#000" textLength="31" lengthAdjust="spacingAndGlyphs">8 weeks</text>
<text class="s" x="76.5" y="455.8" font-size="9.2" fill="#000" textLength="31.0" lengthAdjust="spacingAndGlyphs">2 weeks</text>
<text class="s" x="114" y="455.8" font-size="9.2" fill="#000" textLength="31" lengthAdjust="spacingAndGlyphs">4 weeks</text>
<text class="s" x="152.5" y="455.8" font-size="9.2" fill="#000" textLength="31.0" lengthAdjust="spacingAndGlyphs">7 weeks</text>
<text class="s" x="191.5" y="455.8" font-size="9.2" fill="#000" textLength="34.5" lengthAdjust="spacingAndGlyphs">10 weeks</text>
<text class="s" x="229" y="455.8" font-size="9.2" fill="#000" textLength="34.5" lengthAdjust="spacingAndGlyphs">17 weeks</text>
<text class="n" x="132.5" y="407.4" font-size="13.5" fill="#000" text-anchor="middle" style="font-weight:normal;stroke-width:.45px">*</text>
<text class="n" x="170.8" y="417.4" font-size="13.5" fill="#000" text-anchor="middle" style="font-weight:normal;stroke-width:.45px">*</text>
<text class="n" x="209.3" y="428.4" font-size="13.5" fill="#000" text-anchor="middle" style="font-weight:normal;stroke-width:.45px">*</text>
<text class="n" x="248" y="436.4" font-size="13.5" fill="#000" text-anchor="middle" style="font-weight:normal;stroke-width:.45px">*</text>
<text class="s" x="8.1" y="439.2" font-size="10.3" fill="#000" textLength="72.3" lengthAdjust="spacingAndGlyphs" transform="rotate(-90 8.1 439.2)">% Repopulation</text>
<rect x="38.65" y="344.70" width="5.20" height="4.80" fill="#000"/>
<text class="s" x="46.35" y="349.6" font-size="6.6" fill="#000" textLength="21.15" lengthAdjust="spacingAndGlyphs">Control</text>
<rect x="38.90" y="354.50" width="4.70" height="4.10" fill="#8a8a8a" stroke="#555" stroke-width="0.6"/>
<text class="s" x="46.35" y="358.9" font-size="6.6" fill="#000" textLength="19.85" lengthAdjust="spacingAndGlyphs">Sclpfn1</text>
<rect x="84.20" y="352.40" width="10.80" height="22.10" fill="#111"/>
<rect x="85.80" y="356.90" width="7.70" height="2.20" fill="#e0e0e0"/>
<rect x="86.60" y="370.80" width="6.00" height="1.40" fill="#666"/>
<line x1="101" y1="358.7" x2="108.6" y2="358.7" stroke="#000" stroke-width="1.3"/>
<path d="M96.9,358.7 L103.2,356.3 L103.2,361.1 Z" fill="#000"/>
<text class="s" x="109.8" y="361.1" font-size="7.4" fill="#000" textLength="43.4" lengthAdjust="spacingAndGlyphs">Pfn1 deletion</text>
<path d="M71.15,444 L76,453.1 L73.2,453.1 L73.2,467.6 L69.5,467.6 L69.5,453.1 L66.4,453.1 Z" fill="#6e6e6e"/>
</g>
<g id="panelG">
<line x1="330.5" y1="354.30" x2="330.5" y2="443.0" stroke="#555" stroke-width="1"/>
<line x1="328.0" y1="440.5" x2="467.6" y2="440.5" stroke="#555" stroke-width="1"/>
<line x1="328.0" y1="354.5" x2="330.5" y2="354.5" stroke="#555" stroke-width="1"/>
<text class="s" x="324" y="356.88" font-size="7.6" fill="#000" text-anchor="end">80</text>
<line x1="328.0" y1="376.5" x2="330.5" y2="376.5" stroke="#555" stroke-width="1"/>
<text class="s" x="324" y="378.6" font-size="7.6" fill="#000" text-anchor="end">60</text>
<line x1="328.0" y1="397.5" x2="330.5" y2="397.5" stroke="#555" stroke-width="1"/>
<text class="s" x="324" y="400.32" font-size="7.6" fill="#000" text-anchor="end">40</text>
<line x1="328.0" y1="419.5" x2="330.5" y2="419.5" stroke="#555" stroke-width="1"/>
<text class="s" x="324" y="422.04" font-size="7.6" fill="#000" text-anchor="end">20</text>
<text class="s" x="324" y="443.76" font-size="7.6" fill="#000" text-anchor="end">0</text>
<line x1="375.5" y1="440.5" x2="375.5" y2="443.0" stroke="#555" stroke-width="1"/>
<line x1="421.5" y1="440.5" x2="421.5" y2="443.0" stroke="#555" stroke-width="1"/>
<line x1="467.5" y1="440.5" x2="467.5" y2="443.0" stroke="#555" stroke-width="1"/>
<line x1="346.25" y1="404.00" x2="346.25" y2="411.40" stroke="#555" stroke-width="0.8"/>
<line x1="345.05" y1="404.00" x2="347.45" y2="404.00" stroke="#555" stroke-width="0.8"/>
<rect x="339.70" y="411.40" width="13.10" height="29.50" fill="#000"/>
<line x1="359.60" y1="409.40" x2="359.60" y2="413.80" stroke="#555" stroke-width="0.8"/>
<line x1="358.40" y1="409.40" x2="360.80" y2="409.40" stroke="#555" stroke-width="0.8"/>
<rect x="353.10" y="414.10" width="13.00" height="26.80" fill="#7a7a7a" stroke="#444" stroke-width="0.6"/>
<line x1="392.30" y1="371.50" x2="392.30" y2="378.90" stroke="#555" stroke-width="0.8"/>
<line x1="391.10" y1="371.50" x2="393.50" y2="371.50" stroke="#555" stroke-width="0.8"/>
<rect x="385.60" y="378.90" width="13.40" height="62.00" fill="#000"/>
<line x1="405.50" y1="375.90" x2="405.50" y2="384.20" stroke="#555" stroke-width="0.8"/>
<line x1="404.30" y1="375.90" x2="406.70" y2="375.90" stroke="#555" stroke-width="0.8"/>
<rect x="399.30" y="384.50" width="12.40" height="56.40" fill="#7a7a7a" stroke="#444" stroke-width="0.6"/>
<line x1="437.85" y1="423.30" x2="437.85" y2="429.20" stroke="#555" stroke-width="0.8"/>
<line x1="436.65" y1="423.30" x2="439.05" y2="423.30" stroke="#555" stroke-width="0.8"/>
<rect x="431.50" y="429.20" width="12.70" height="11.70" fill="#000"/>
<line x1="450.85" y1="421.80" x2="450.85" y2="424.80" stroke="#555" stroke-width="0.8"/>
<line x1="449.65" y1="421.80" x2="452.05" y2="421.80" stroke="#555" stroke-width="0.8"/>
<rect x="444.50" y="425.10" width="12.70" height="15.80" fill="#7a7a7a" stroke="#444" stroke-width="0.6"/>
<text class="s" x="352.8" y="454.6" font-size="6.4" fill="#000" text-anchor="middle" textLength="20.5" lengthAdjust="spacingAndGlyphs">Thy1.2</text>
<text class="s" x="399" y="454.6" font-size="6.4" fill="#000" text-anchor="middle" textLength="15" lengthAdjust="spacingAndGlyphs">B220</text>
<text class="s" x="444.2" y="454.6" font-size="6.4" fill="#000" text-anchor="middle" textLength="37" lengthAdjust="spacingAndGlyphs">Mac-1/Gr-1</text>
<text class="s" x="309" y="439.2" font-size="10.8" fill="#000" textLength="76.0" lengthAdjust="spacingAndGlyphs" transform="rotate(-90 309 439.2)">% Repopulation</text>
<rect x="336.90" y="353.20" width="4.20" height="4.30" fill="#000"/>
<text class="s" x="343" y="357.5" font-size="7" fill="#000" textLength="22.1" lengthAdjust="spacingAndGlyphs">Control</text>
<rect x="337.20" y="360.50" width="3.60" height="3.60" fill="#888" stroke="#333" stroke-width="0.6"/>
<text class="s" x="343" y="364.5" font-size="7" fill="#000" textLength="20.8" lengthAdjust="spacingAndGlyphs">Sclpfn1</text>
</g>
</svg>
</body></html>
